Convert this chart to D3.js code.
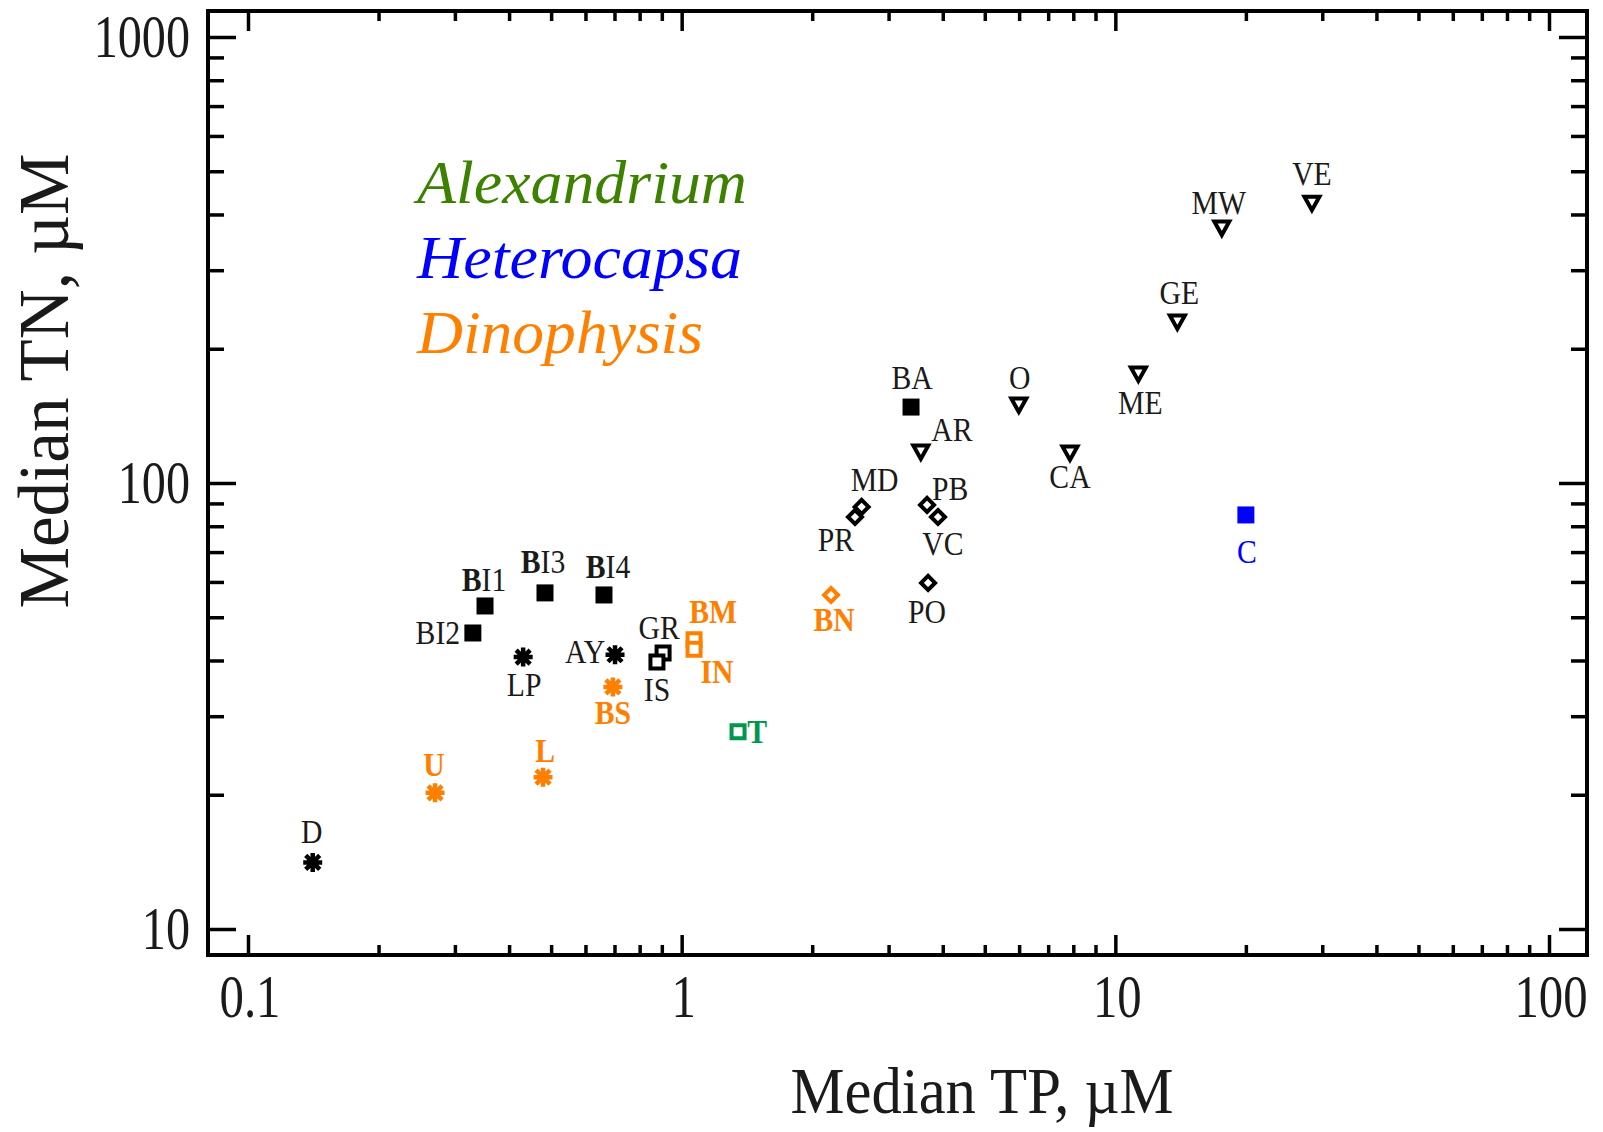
<!DOCTYPE html>
<html>
<head>
<meta charset="utf-8">
<script src="https://cdn.jsdelivr.net/npm/d3@7"></script>
<style>
  body { margin: 0; background: #fff; }
  svg { display: block; }
  text { font-family: "Liberation Serif", "Times New Roman", serif; }
</style>
</head>
<body>
<div id="chart"></div>
<script>
// Sites, median TP and TN (µM), site type and bloom genus
const sites = ["D", "BI1", "BI2", "BI3", "BI4", "LP", "AY", "GR", "IS", "BA",
  "U", "L", "BS", "BM", "IN", "BN", "T", "C",
  "MD", "PR", "PB", "VC", "PO", "AR", "O", "CA", "ME", "GE", "MW", "VE"];
const medianTP = [0.141, 0.352, 0.330, 0.484, 0.662, 0.431, 0.702, 0.906, 0.877, 3.38,
  0.270, 0.479, 0.694, 1.068, 1.068, 2.21, 1.349, 20.0,
  2.60, 2.51, 3.68, 3.90, 3.70, 3.56, 5.99, 7.86, 11.3, 13.9, 17.6, 28.4];
const medianTN = [14.1, 53.0, 46.1, 56.7, 56.1, 40.7, 41.2, 41.6, 39.7, 148,
  20.2, 21.9, 34.9, 44.5, 42.4, 56.1, 27.7, 84.8,
  88.4, 83.9, 89.3, 83.9, 59.7, 117.4, 149.6, 116.8, 175.6, 229.6, 373, 424];
const siteType = ["asterisk", "square", "square", "square", "square", "asterisk", "asterisk", "openSquare", "openSquare", "square",
  "asterisk", "asterisk", "asterisk", "openSquare", "openSquare", "diamond", "openSquare", "square",
  "diamond", "diamond", "diamond", "diamond", "diamond", "triangle", "triangle", "triangle", "triangle", "triangle", "triangle", "triangle"];
const genus = ["none", "none", "none", "none", "none", "none", "none", "none", "none", "none",
  "Dinophysis", "Dinophysis", "Dinophysis", "Dinophysis", "Dinophysis", "Dinophysis", "Alexandrium", "Heterocapsa",
  "none", "none", "none", "none", "none", "none", "none", "none", "none", "none", "none", "none"];
const legendGenus = ["Alexandrium", "Heterocapsa", "Dinophysis"];
const xTickLabels = ["0.1", "1", "10", "100"];
const yTickLabels = ["10", "100", "1000"];

// label placement relative to its marker (px)
const labelOffset = {
  D: [-1, -30], BI1: [-1, -26], BI2: [-35, 0], BI3: [-2, -31], BI4: [4, -28],
  LP: [1, 28], AY: [-30, -3], GR: [-4, -25], IS: [0, 28], BA: [1, -29],
  U: [-1, -28], L: [2, -26], BS: [0, 26], BM: [19, -28], IN: [23, 23],
  BN: [3, 25], T: [19, 0], C: [1, 37], MD: [13, -27], PR: [-19, 23],
  PB: [23, -16], VC: [5, 27], PO: [-1, 29], AR: [31, -22], O: [1, -27],
  CA: [0, 24], ME: [2, 29], GE: [2, -29], MW: [-3, -25], VE: [0, -29]
};
const boldFirst = new Set(["BI1", "BI3", "BI4"]);

const markerColor = { none: "#000", Dinophysis: "#ff8000", Heterocapsa: "#0000ff", Alexandrium: "#00964b" };
const labelColor = { none: "#1a1a1a", Dinophysis: "#ff8000", Heterocapsa: "#0000ff", Alexandrium: "#00964b" };
const legendColor = { Alexandrium: "#3c8200", Heterocapsa: "#0000ff", Dinophysis: "#ff8000" };

const W = 1603, H = 1132;
const frame = { left: 208, right: 1587, top: 11, bottom: 955 };

const x = d3.scaleLog().domain([0.1, 100]).range([248, 1549]);
const y = d3.scaleLog().domain([10, 1000]).range([929, 37]);

const svg = d3.select("#chart").append("svg")
  .attr("width", W)
  .attr("height", H);

svg.append("rect").attr("width", W).attr("height", H).attr("fill", "#fff");

// text squeezed horizontally like the stretched original
function squeezed(g, px, py, sx, str) {
  return g.append("g")
    .attr("transform", `translate(${px},${py}) scale(${sx},1)`)
    .append("text")
    .text(str);
}

// ticks (inward on all four sides)
const isMajor = d => Math.abs(Math.log10(d) - Math.round(Math.log10(d))) < 1e-9;
const xTicks = x.ticks();
const yTicks = y.ticks();
const xMajor = xTicks.filter(isMajor), xMinor = xTicks.filter(d => !isMajor(d));
const yMajor = yTicks.filter(isMajor), yMinor = yTicks.filter(d => !isMajor(d));

function addAxis(axisFn, scale, values, size, transform) {
  const g = svg.append("g")
    .attr("transform", transform)
    .call(axisFn(scale).tickValues(values).tickSize(-size).tickSizeOuter(0).tickFormat(""));
  g.select(".domain").remove();
  g.selectAll(".tick line").attr("stroke", "#000").attr("stroke-width", 3.5);
  g.selectAll(".tick text").remove();
}
addAxis(d3.axisBottom, x, xMajor, 20, `translate(0,${frame.bottom})`);
addAxis(d3.axisBottom, x, xMinor, 10, `translate(0,${frame.bottom})`);
addAxis(d3.axisTop, x, xMajor, 20, `translate(0,${frame.top})`);
addAxis(d3.axisTop, x, xMinor, 10, `translate(0,${frame.top})`);
addAxis(d3.axisLeft, y, yMajor, 28, `translate(${frame.left},0)`);
addAxis(d3.axisLeft, y, yMinor, 16, `translate(${frame.left},0)`);
addAxis(d3.axisRight, y, yMajor, 28, `translate(${frame.right},0)`);
addAxis(d3.axisRight, y, yMinor, 16, `translate(${frame.right},0)`);

// frame
svg.append("rect")
  .attr("x", frame.left)
  .attr("y", frame.top)
  .attr("width", frame.right - frame.left)
  .attr("height", frame.bottom - frame.top)
  .attr("fill", "none")
  .attr("stroke", "#000")
  .attr("stroke-width", 4);

// tick labels
const tickG = svg.append("g").style("font-size", "61px").attr("fill", "#1a1a1a");
xTickLabels.forEach(t => {
  squeezed(tickG, x(+t) + 2, 1017, 0.8, t).attr("text-anchor", "middle");
});
yTickLabels.forEach(t => {
  squeezed(tickG, 190, y(+t) + 20, 0.79, t).attr("text-anchor", "end");
});

// axis titles
svg.append("text")
  .attr("x", 982)
  .attr("y", 1113)
  .attr("text-anchor", "middle")
  .attr("textLength", 383)
  .attr("lengthAdjust", "spacingAndGlyphs")
  .style("font-size", "66px")
  .attr("fill", "#1a1a1a")
  .text("Median TP, µM");

svg.append("g")
  .attr("transform", "translate(68,381) rotate(-90)")
  .append("text")
  .attr("text-anchor", "middle")
  .attr("textLength", 455)
  .attr("lengthAdjust", "spacingAndGlyphs")
  .style("font-size", "72px")
  .attr("fill", "#1a1a1a")
  .text("Median TN, µM");

// legend
const legendWidth = { Alexandrium: 330, Heterocapsa: 325, Dinophysis: 286 };
legendGenus.forEach((gname, i) => {
  svg.append("text")
    .attr("x", 417)
    .attr("y", 203 + i * 75)
    .attr("textLength", legendWidth[gname])
    .attr("lengthAdjust", "spacingAndGlyphs")
    .style("font-size", "62px")
    .style("font-style", "italic")
    .attr("fill", legendColor[gname])
    .text(gname);
});

// marker shapes
const shapePath = {
  square: "M-8.5,-8.5H8.5V8.5H-8.5Z",
  openSquare: "M-6.5,-6.5H6.5V6.5H-6.5Z",
  diamond: "M0,-7L7,0L0,7L-7,0Z",
  triangle: "M-7.5,-6.5L7.5,-6.5L0,7Z",
  asterisk: "M-9.5,0H9.5M0,-9.5V9.5M-7,-7L7,7M-7,7L7,-7"
};

const data = sites.map((s, i) => ({
  site: s, tp: medianTP[i], tn: medianTN[i], type: siteType[i], genus: genus[i]
}));

const pts = svg.append("g").selectAll("g")
  .data(data)
  .join("g")
  .attr("transform", d => `translate(${x(d.tp)},${y(d.tn)})`);

pts.append("path")
  .attr("d", d => shapePath[d.type])
  .attr("fill", d => d.type === "square" ? markerColor[d.genus] : (d.type === "asterisk" ? "none" : "#fff"))
  .attr("stroke", d => markerColor[d.genus])
  .attr("stroke-width", d => d.type === "square" ? 0 : (d.type === "asterisk" ? 4.5 : 4))
  .attr("stroke-linejoin", "miter");

pts.filter(d => d.type === "asterisk")
  .append("circle")
  .attr("r", 5.5)
  .attr("fill", d => markerColor[d.genus]);

// site labels
const labels = svg.append("g").style("font-size", "33px");
data.forEach(d => {
  const [dx, dy] = labelOffset[d.site];
  const t = squeezed(labels, x(d.tp) + dx, y(d.tn) + dy + 11, 0.9, null)
    .attr("text-anchor", "middle")
    .attr("fill", labelColor[d.genus])
    .style("font-weight", d.genus === "none" || d.genus === "Heterocapsa" ? "normal" : "bold");
  if (boldFirst.has(d.site)) {
    t.append("tspan").style("font-weight", "bold").text(d.site[0]);
    t.append("tspan").text(d.site.slice(1));
  } else {
    t.text(d.site);
  }
});
</script>
</body>
</html>
